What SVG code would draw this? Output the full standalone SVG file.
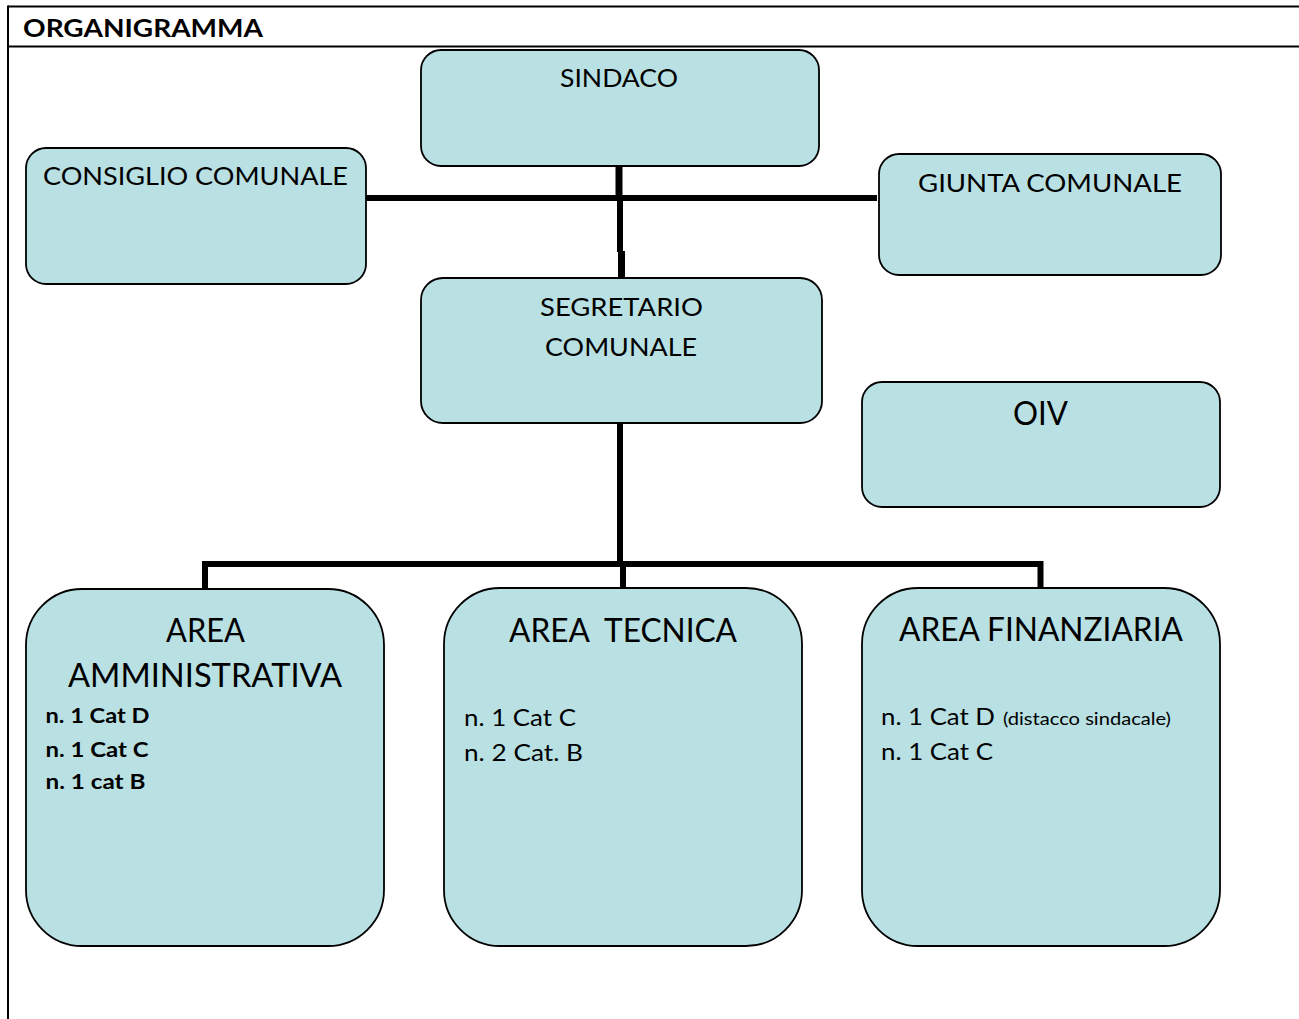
<svg xmlns="http://www.w3.org/2000/svg" width="1299" height="1019" viewBox="0 0 1299 1019">
<style>
.box{fill:#B9E0E3;stroke:#000;stroke-width:1.8}
.t{font-family:Lato,"Liberation Sans",sans-serif;fill:#000}
.c{stroke:#000;fill:none;stroke-linecap:butt}
</style>
<rect x="0" y="0" width="1299" height="1019" fill="#fff"/>
<g id="frame">
<line x1="8" y1="6.5" x2="1299" y2="6.5" stroke="#000" stroke-width="2"/>
<line x1="8" y1="46.5" x2="1299" y2="46.5" stroke="#000" stroke-width="2"/>
<line x1="8" y1="5.5" x2="8" y2="1019" stroke="#000" stroke-width="2"/>
<text class="t" x="23" y="37" font-size="25" font-weight="bold" textLength="240" lengthAdjust="spacingAndGlyphs">ORGANIGRAMMA</text>
</g>
<g id="connectors">
<line class="c" x1="619" y1="166" x2="619" y2="199" stroke-width="7"/>
<line class="c" x1="366" y1="198" x2="877" y2="198" stroke-width="6"/>
<line class="c" x1="620" y1="198" x2="620" y2="252" stroke-width="6"/>
<line class="c" x1="621.5" y1="251" x2="621.5" y2="279" stroke-width="7"/>
<line class="c" x1="620" y1="423" x2="620" y2="567" stroke-width="6"/>
<polyline class="c" points="205,589 205,564 1040.5,564 1040.5,589" stroke-width="6"/>
<line class="c" x1="623" y1="564" x2="623" y2="589" stroke-width="6"/>
</g>
<g id="sindaco">
<rect class="box" x="421" y="50" width="398" height="116" rx="20"/>
<text class="t" x="619" y="87" font-size="25.5" text-anchor="middle" textLength="118" lengthAdjust="spacingAndGlyphs">SINDACO</text>
</g>
<g id="consiglio">
<rect class="box" x="26" y="148" width="340" height="136" rx="20"/>
<text class="t" x="195.5" y="185" font-size="25.5" text-anchor="middle" textLength="305" lengthAdjust="spacingAndGlyphs">CONSIGLIO COMUNALE</text>
</g>
<g id="giunta">
<rect class="box" x="879" y="154" width="342" height="121" rx="20"/>
<text class="t" x="1050" y="192" font-size="25.5" text-anchor="middle" textLength="264" lengthAdjust="spacingAndGlyphs">GIUNTA COMUNALE</text>
</g>
<g id="segretario">
<rect class="box" x="421" y="278" width="401" height="145" rx="22"/>
<text class="t" x="621.5" y="316" font-size="25.5" text-anchor="middle" textLength="163" lengthAdjust="spacingAndGlyphs">SEGRETARIO</text>
<text class="t" x="621" y="356" font-size="25.5" text-anchor="middle" textLength="152" lengthAdjust="spacingAndGlyphs">COMUNALE</text>
</g>
<g id="oiv">
<rect class="box" x="862" y="382" width="358" height="125" rx="20"/>
<text class="t" x="1040.5" y="425" font-size="32.5" text-anchor="middle" textLength="55" lengthAdjust="spacingAndGlyphs">OIV</text>
</g>
<g id="area-amministrativa">
<rect class="box" x="26" y="589" width="358" height="357" rx="56"/>
<text class="t" x="205.5" y="642" font-size="32.5" text-anchor="middle" textLength="79" lengthAdjust="spacingAndGlyphs">AREA</text>
<text class="t" x="205" y="687" font-size="32.5" text-anchor="middle" textLength="274" lengthAdjust="spacingAndGlyphs">AMMINISTRATIVA</text>
<text class="t" x="45.5" y="723" font-size="21.5" font-weight="bold" textLength="104" lengthAdjust="spacingAndGlyphs">n. 1 Cat D</text>
<text class="t" x="45.5" y="757" font-size="21.5" font-weight="bold" textLength="103" lengthAdjust="spacingAndGlyphs">n. 1 Cat C</text>
<text class="t" x="45.5" y="789" font-size="21.5" font-weight="bold" textLength="100" lengthAdjust="spacingAndGlyphs">n. 1 cat B</text>
</g>
<g id="area-tecnica">
<rect class="box" x="444" y="588" width="358" height="358" rx="56"/>
<text class="t" x="623" y="642" font-size="32.5" text-anchor="middle" xml:space="preserve" textLength="228" lengthAdjust="spacingAndGlyphs">AREA  TECNICA</text>
<text class="t" x="464" y="726" font-size="22.5" textLength="112" lengthAdjust="spacingAndGlyphs">n. 1 Cat C</text>
<text class="t" x="464" y="761" font-size="22.5" textLength="119" lengthAdjust="spacingAndGlyphs">n. 2 Cat. B</text>
</g>
<g id="area-finanziaria">
<rect class="box" x="862" y="588" width="358" height="358" rx="56"/>
<text class="t" x="1041" y="641" font-size="32.5" text-anchor="middle" textLength="284" lengthAdjust="spacingAndGlyphs">AREA FINANZIARIA</text>
<text class="t" x="881" y="725" font-size="22.5" textLength="114" lengthAdjust="spacingAndGlyphs">n. 1 Cat D</text>
<text class="t" x="1003" y="725" font-size="17" textLength="168" lengthAdjust="spacingAndGlyphs">(distacco sindacale)</text>
<text class="t" x="881" y="760" font-size="22.5" textLength="112" lengthAdjust="spacingAndGlyphs">n. 1 Cat C</text>
</g>
</svg>
